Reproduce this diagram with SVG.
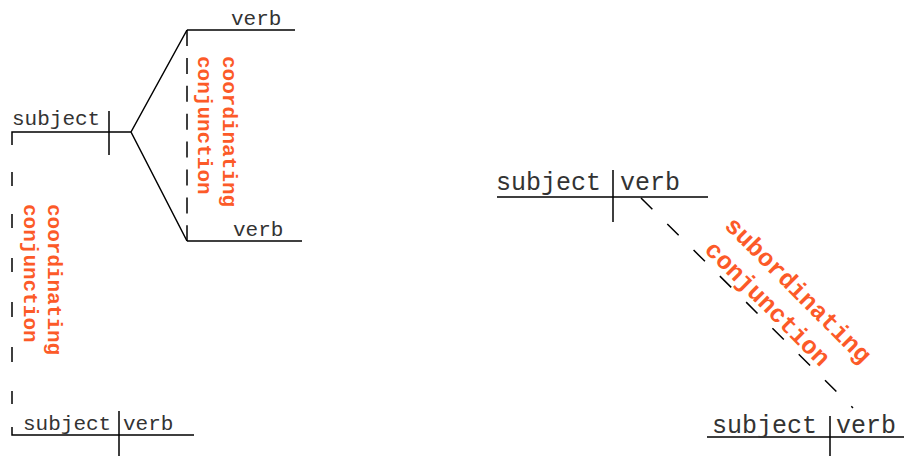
<svg xmlns="http://www.w3.org/2000/svg" width="904" height="456" viewBox="0 0 904 456">
<style>
.ln{stroke:#000;stroke-width:1.5;fill:none;stroke-linecap:butt}
.w{font-family:"Liberation Mono","Courier New",monospace;fill:#333}
.s21{font-size:21px}
.s25{font-size:25px}
.lab{font-family:"Liberation Mono","Courier New",monospace;font-weight:bold;fill:#fc5a28}
.dash{stroke:#000;stroke-width:1.5;fill:none}
</style>
<rect width="904" height="456" fill="#fff"/>
<g id="clause-top-left">
  <path class="ln" d="M12 145V132H131M109 111V155"/>
  <text class="w s21" x="12" y="125">subject</text>
</g>
<g id="verb-top">
  <path class="ln" d="M187 30H295"/>
  <text class="w s21" x="231" y="25">verb</text>
</g>
<g id="verb-bottom">
  <path class="ln" d="M187 241H302"/>
  <text class="w s21" x="233" y="236">verb</text>
</g>
<g id="clause-bottom-left">
  <path class="ln" d="M12 427V435H194M119 411V456"/>
  <text class="w s21" x="23" y="430">subject</text>
  <text class="w s21" x="123" y="430">verb</text>
</g>
<g id="clause-top-right">
  <path class="ln" d="M497 197H708M613 170V222"/>
  <text class="w s25" x="496" y="190">subject</text>
  <text class="w s25" x="620" y="190">verb</text>
</g>
<g id="clause-bottom-right">
  <path class="ln" d="M707 437H904M830 416V456"/>
  <text class="w s25" x="712" y="433">subject</text>
  <text class="w s25" x="836" y="433">verb</text>
</g>
<g id="connectors">
  <path class="ln" d="M131 132L187 30M131 132L187 241"/>
  <path class="dash" stroke-dasharray="16 11.9" d="M187 30V241"/>
  <path class="dash" d="M12 172V186M12 214V228M12 258V272M12 302V317M12 347V362M12 391V404"/>
  <path class="dash" stroke-dasharray="16 21" d="M641 198L853 408"/>
  <text class="lab s21" transform="translate(223,56) rotate(90)">coordinating</text>
  <text class="lab s21" transform="translate(198,56) rotate(90)">conjunction</text>
  <text class="lab s21" transform="translate(48,204) rotate(90)">coordinating</text>
  <text class="lab s21" transform="translate(24,204) rotate(90)">conjunction</text>
  <text class="lab s25" transform="translate(723.6,226.8) rotate(45)">subordinating</text>
  <text class="lab s25" transform="translate(703.6,250.8) rotate(45)">conjunction</text>
</g>
</svg>
